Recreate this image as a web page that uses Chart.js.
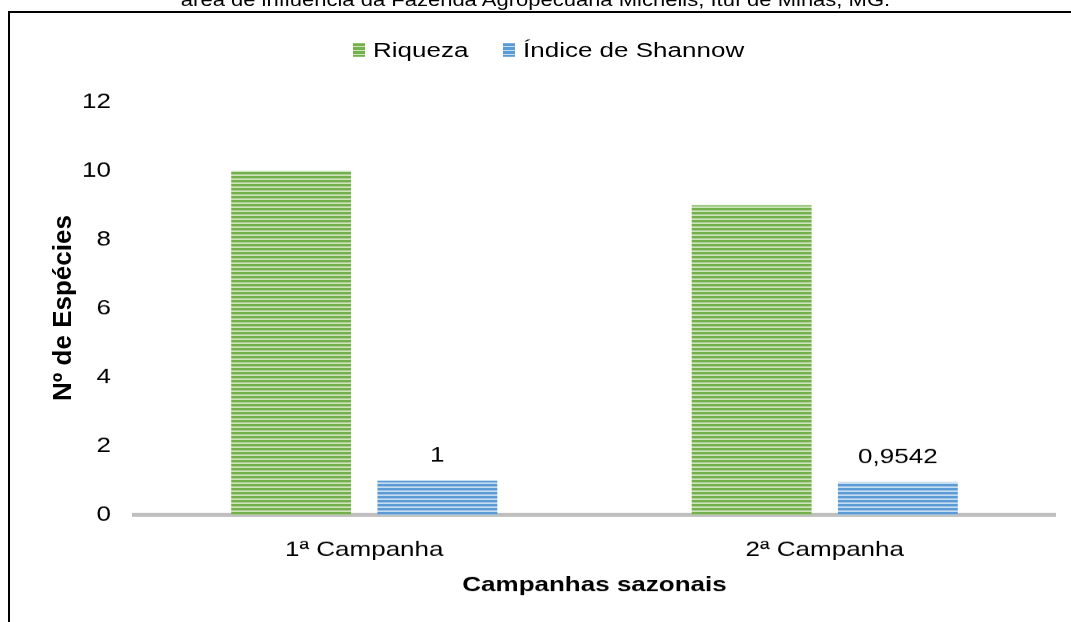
<!DOCTYPE html>
<html>
<head>
<meta charset="utf-8">
<script src="https://cdn.jsdelivr.net/npm/chart.js@4/dist/chart.umd.min.js"></script>
<style>
html, body { margin: 0; padding: 0; background: #fff; overflow: hidden; }
body { width: 1071px; height: 622px; position: relative; font-family: "Liberation Sans", Arial, sans-serif; }
/* the original picture is squashed vertically, so draw tall and scale down */
#wrap { position: absolute; left: 0; top: 0; width: 1071px; height: 778px;
  transform: scaleY(0.8); transform-origin: 0 0; }
#title { position: absolute; left: 0; top: -10px; width: 1071px; text-align: center;
  font-size: 22px; line-height: 22px; color: #000; white-space: nowrap; }
#legend span { position: absolute; }
.box { width: 12px; height: 17px; top: 54px; }
.lbl { top: 49px; font-size: 26px; line-height: 26px; color: #000; white-space: nowrap; }
#frame { position: absolute; left: 8px; top: 11px; width: 1100px; height: 700px;
  border-left: 2px solid #000; border-top: 2px solid #000; }
#ytitle { position: absolute; left: 62px; top: 308px; transform: translate(-50%, -50%) rotate(-90deg);
  font-size: 26px; font-weight: bold; color: #000; white-space: nowrap; }
canvas { position: absolute; left: 0; top: 0; }
</style>
</head>
<body>
<div id="wrap">
  <div id="title">área de influência da Fazenda Agropecuária Michelis, Ituí de Minas, MG.</div>
  <canvas id="canvas" width="1071" height="778"></canvas>
  <div id="legend">
    <span class="box" id="box0" style="left:353px"></span>
    <span class="lbl" id="lbl0" style="left:373px"></span>
    <span class="box" id="box1" style="left:503px"></span>
    <span class="lbl" id="lbl1" style="left:523px"></span>
  </div>
</div>
<div id="frame"></div>
<div id="ytitle">Nº de Espécies</div>
<script>
var categories = ['1ª Campanha', '2ª Campanha'];
var seriesNames = ['Riqueza', 'Índice de Shannow'];
var riqueza = [10, 9];
var shannon = [1, 0.9542];
var shannonLabels = ['1', '0,9542'];
var yTicks = [0, 2, 4, 6, 8, 10, 12];

// horizontal stripes like the original fill
function stripes(dark, light) {
	var c = document.createElement('canvas');
	c.width = 4; c.height = 5;
	var ctx = c.getContext('2d');
	ctx.fillStyle = light;
	ctx.fillRect(0, 0, 4, 5);
	ctx.fillStyle = dark;
	ctx.fillRect(0, 0, 4, 3);
	return document.createElement('canvas').getContext('2d').createPattern(c, 'repeat');
}

var greenFill = stripes('#74b04c', '#cde4bd');
var blueFill = stripes('#5b9bd5', '#c6dcf1');

// legend in html
document.getElementById('box0').style.background = 'repeating-linear-gradient(#74b04c 0 3px, #cde4bd 3px 5px)';
document.getElementById('box1').style.background = 'repeating-linear-gradient(#5b9bd5 0 3px, #c6dcf1 3px 5px)';
document.getElementById('lbl0').textContent = seriesNames[0];
document.getElementById('lbl1').textContent = seriesNames[1];

var font = '"Liberation Sans", Arial, sans-serif';

var valueLabels = {
	id: 'valueLabels',
	afterDatasetsDraw: function(chart) {
		var ctx = chart.ctx;
		var meta = chart.getDatasetMeta(1);
		ctx.save();
		ctx.font = '26px ' + font;
		ctx.fillStyle = '#000';
		ctx.textAlign = 'center';
		ctx.textBaseline = 'alphabetic';
		meta.data.forEach(function(bar, i) {
			ctx.fillText(shannonLabels[i], bar.x, bar.y - 24);
		});
		ctx.restore();
	}
};

new Chart(document.getElementById('canvas'), {
	type: 'bar',
	data: {
		labels: categories,
		datasets: [{
			label: seriesNames[0],
			data: riqueza,
			backgroundColor: greenFill,
			borderWidth: 0
		}, {
			label: seriesNames[1],
			data: shannon,
			backgroundColor: blueFill,
			borderWidth: 0
		}]
	},
	options: {
		responsive: false,
		animation: false,
		datasets: {
			bar: { categoryPercentage: 0.635, barPercentage: 0.82 }
		},
		layout: { padding: { left: 0, right: 16, top: 127.5, bottom: 0 } },
		plugins: {
			legend: { display: false },
			tooltip: { enabled: false }
		},
		scales: {
			x: {
				afterFit: function(axis) { axis.height = 134.25; },
				grid: { display: false, drawTicks: false },
				border: { color: '#bfbfbf', width: 5 },
				ticks: { color: '#000', font: { family: font, size: 26 }, padding: 28 },
				title: { display: true, text: 'Campanhas sazonais', color: '#000',
					font: { family: font, size: 26, weight: 'bold' }, padding: { top: 0, bottom: 31 } }
			},
			y: {
				min: 0,
				max: 12,
				afterFit: function(axis) { axis.width = 134; },
				afterBuildTicks: function(axis) {
					axis.ticks = yTicks.map(function(v) { return { value: v }; });
				},
				grid: { display: false, drawTicks: false },
				border: { display: false },
				ticks: { color: '#000', font: { family: font, size: 26 }, padding: 23 }
			}
		}
	},
	plugins: [valueLabels]
});
</script>
</body>
</html>
